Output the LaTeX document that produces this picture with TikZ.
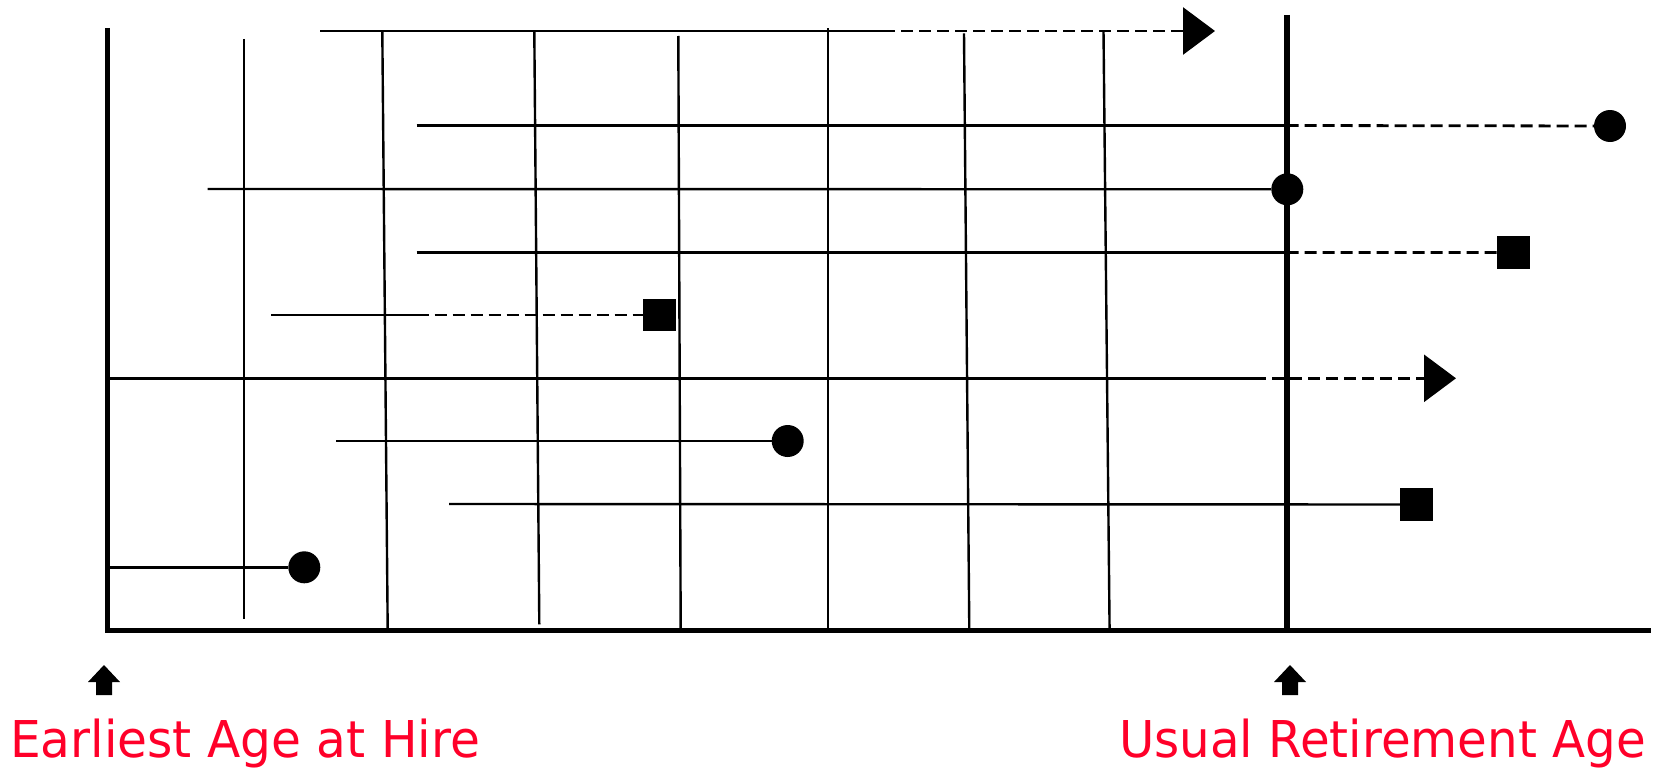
\documentclass[tikz,border=0pt]{standalone}
\usepackage{fontspec}
\setmainfont{DejaVu Sans}
\usetikzlibrary{arrows.meta}
\definecolor{hirered}{RGB}{255,0,41}
\tikzset{ln/.style  = {line width=2.4pt},
         dl/.style  = {line width=2.8pt, dash pattern=on 12pt off 6pt},
         ax/.style  = {line width=5pt},
         dot/.style = {circle, fill, minimum size=32pt, inner sep=0pt},
         sq/.style  = {rectangle, fill, minimum size=32.5pt, inner sep=0pt},
         lbl/.style = {text=hirered, inner sep=0pt, anchor=base west,
                       font=\fontsize{50.75pt}{60pt}\selectfont},
         uparrow/.pic = {\fill (0,0) -- (16,17) -- (8,17) -- (8,30) -- (-8,30) -- (-8,17) -- (-16,17) -- cycle;}}

\begin{document}
\begin{tikzpicture}[x=1pt, y=-1pt, >={Triangle[length=32pt, width=47pt]}]
    \useasboundingbox (0,0) rectangle (1654,768);
    % axes and retirement line
    \draw[ax] (107.7,28) -- (107.7,633);
    \draw[ax] (105,630.7) -- (1651,630.7);
    \draw[line width=6pt] (1286.7,15) -- (1286.7,633);
    % calendar years
    \draw[ln] (243.7,39) -- (243.7,619.3);
    \draw[ln] (382.3,31) -- (387.7,630.7);
    \draw[ln] (534.3,31) -- (539.3,624.3);
    \draw[ln] (678.3,36) -- (680.7,630.7);
    \draw[ln] (827.7,28.3) -- (827.7,630.7);
    \draw[ln] (964,33.3) -- (969.3,630.7);
    \draw[ln] (1103.5,31) -- (1109.6,630.7);
    % careers
    \coordinate (a1) at (320,31);      \coordinate (m1) at (883,31);      \coordinate (e1) at (1215,31);
    \coordinate (a2) at (416.7,125.5); \coordinate (m2) at (1286.7,125.5); \node[dot] (d2) at (1610,126) {};
    \coordinate (a3) at (207.7,189);   \node[dot] (d3) at (1287.3,189.3) {};
    \coordinate (a4) at (416.7,252.4); \coordinate (m4) at (1286.7,252.4); \node[sq] (s4) at (1513.7,252.5) {};
    \coordinate (a5) at (271.3,315);   \coordinate (m5) at (416.7,315);   \node[sq] (s5) at (659.5,315) {};
    \coordinate (a6) at (110,378.3);   \coordinate (m6) at (1254,378.3);  \coordinate (e6) at (1456,378.3);
    \coordinate (a7) at (336,441);     \node[dot] (d7) at (787.7,441) {};
    \coordinate (a8) at (449,504);     \node[sq] (s8) at (1416.3,504.5) {};
    \coordinate (a9) at (110,567.3);   \node[dot] (d9) at (304.3,567.3) {};
    \draw[ln] (a1) -- (m1); \draw[dl, ->] (m1) -- (e1);
    \draw[ln] (a2) -- (m2); \draw[dl] (m2) -- (d2);
    \draw[ln] (a3) -- (d3);
    \draw[ln] (a4) -- (m4); \draw[dl] (m4) -- (s4);
    \draw[ln] (a5) -- (m5); \draw[dl] (m5) -- (s5);
    \draw[ln] (a6) -- (m6); \draw[dl, ->] (m6) -- (e6);
    \draw[ln] (a7) -- (d7);
    \draw[ln] (a8) -- (s8);
    \draw[ln] (a9) -- (d9);
    % ages
    \pic at (104,665) {uparrow};
    \pic at (1290,665) {uparrow};
    \node[lbl] (hire) at (10,757) {\scalebox{0.958}[1]{Earliest Age at Hire}};
    \node[lbl] (retire) at (1119,757) {\scalebox{0.952}[1]{Usual Retirement Age}};
\end{tikzpicture}
\end{document}
